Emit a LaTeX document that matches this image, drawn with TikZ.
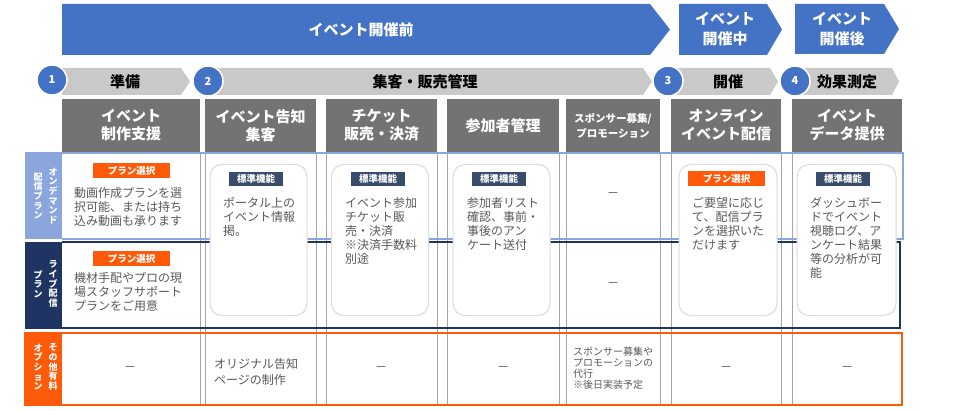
\documentclass[tikz,border=0pt]{standalone}
\usepackage{fontspec}
\setmainfont{Noto Sans CJK JP}
\definecolor{evblue}{HTML}{4472C4}
\definecolor{chev}{HTML}{C9C9C9}
\definecolor{hdr}{HTML}{737373}
\definecolor{ltblue}{HTML}{8AA6DD}
\definecolor{navy}{HTML}{1F3463}
\definecolor{orng}{HTML}{FF5A0A}
\definecolor{badge}{HTML}{394C6C}
\definecolor{txt}{HTML}{595959}
\definecolor{colline}{HTML}{A6A6A6}
\definecolor{rbox}{HTML}{DCDCDC}
\begin{document}
\begin{tikzpicture}[x=1pt,y=-1pt,
  bantext/.style={text=white,font=\fontsize{15}{20}\selectfont\bfseries,align=center,inner sep=0},
  chevtext/.style={text=black,font=\fontsize{15}{18}\selectfont\bfseries,inner sep=0},
  numcirc/.style={circle,fill=evblue,draw=white,line width=1.5pt,minimum size=30pt,inner sep=0,text=white,font=\fontsize{11}{11}\selectfont\bfseries},
  hdrbox/.style={fill=hdr,text=white,font=\fontsize{15}{18}\selectfont\bfseries,align=center,inner sep=0,minimum height=53pt},
  rboxst/.style={draw=rbox,fill=white,line width=1pt,rounded corners=12pt,minimum width=97pt,minimum height=151pt,inner sep=0},
  stdbadge/.style={fill=badge,text=white,font=\fontsize{9.5}{10}\selectfont\bfseries,minimum width=54pt,minimum height=14pt,inner sep=0},
  planbadge/.style={fill=orng,text=white,font=\fontsize{9.5}{10}\selectfont\bfseries,minimum width=77pt,minimum height=15pt,inner sep=0},
  body/.style={text=txt,font=\fontsize{12}{14}\selectfont,align=left,inner sep=0,anchor=north west},
  dashst/.style={text=txt,font=\fontsize{12}{14}\selectfont,inner sep=0},
  vlabel/.style={text=white,font=\fontsize{9}{9.6}\selectfont\bfseries,align=center,inner sep=0},
]
\useasboundingbox (0,0) rectangle (960,411);
\fill[white] (0,0) rectangle (960,411);

% top banners
\fill[evblue] (62,4) -- (650,4) -- (670,29.5) -- (650,55) -- (62,55) -- cycle;
\fill[evblue] (679,4) -- (767,4) -- (782,29.5) -- (767,55) -- (679,55) -- cycle;
\fill[evblue] (795,4) -- (884,4) -- (899,29) -- (884,54) -- (795,54) -- cycle;
\node[bantext] (b1) at (361,30) {イベント開催前};
\node[bantext] (b2) at (725,29) {イベント\\開催中};
\node[bantext] (b3) at (842,29) {イベント\\開催後};

% phase chevrons
\fill[chev] (62,68) -- (181,68) -- (190,81.5) -- (181,95) -- (62,95) -- cycle;
\fill[chev] (208,68) -- (643,68) -- (652,81.5) -- (643,95) -- (208,95) -- cycle;
\fill[chev] (668,68) -- (770,68) -- (778,81.5) -- (770,95) -- (668,95) -- cycle;
\fill[chev] (795,68) -- (892,68) -- (899,81.5) -- (892,95) -- (795,95) -- cycle;
\node[chevtext] (p1) at (125,81.5) {準備};
\node[chevtext] (p2) at (425,81.5) {集客・販売管理};
\node[chevtext] (p3) at (728,81.5) {開催};
\node[chevtext] (p4) at (847,81.5) {効果測定};
\node[numcirc] (n1) at (52,80) {1};
\node[numcirc] (n2) at (208,81) {2};
\node[numcirc] (n3) at (668,81) {3};
\node[numcirc] (n4) at (795,81) {4};

% column lines
\foreach \x in {200,205,316,326,437,447,559,566,660,671,781,792}
  \draw[colline,line width=0.9pt] (\x,152) -- (\x,405);

% bands
\draw[ltblue,line width=1.3pt] (25,153) -- (903,153) -- (903,239) -- (62,239);
\fill[ltblue] (25,153) rectangle (62,239.5);
\draw[navy,line width=2pt] (62,242) -- (900,242) -- (900,328) -- (25,328);
\fill[navy] (25,242) rectangle (62,328);
\fill[orng] (25,333) rectangle (62,405);
\draw[orng,line width=2.5pt] (25,333) rectangle (902,405);

% row labels (vertical)
\node[vlabel] (l1a) at (53,196) {オ\\ン\\デ\\マ\\ン\\ド};
\node[vlabel] (l1b) at (38,196) {配\\信\\プ\\ラ\\ン};
\node[vlabel] (l2a) at (53,284) {ラ\\イ\\ブ\\配\\信};
\node[vlabel] (l2b) at (38,284) {プ\\ラ\\ン};
\node[vlabel] (l3a) at (53,367) {そ\\の\\他\\有\\料};
\node[vlabel] (l3b) at (38,367) {オ\\プ\\シ\\ョ\\ン};

% column headers
\node[hdrbox,minimum width=138pt] (h1) at (131,125.5) {イベント\\制作支援};
\node[hdrbox,minimum width=111pt] (h2) at (260.5,125.5) {イベント告知\\集客};
\node[hdrbox,minimum width=111pt] (h3) at (381.5,125.5) {チケット\\販売・決済};
\node[hdrbox,minimum width=112pt] (h4) at (503,125.5) {参加者管理};
\node[hdrbox,minimum width=94pt,font=\fontsize{10.5}{15}\selectfont\bfseries] (h5) at (613,125.5) {スポンサー募集/\\プロモーション};
\node[hdrbox,minimum width=110pt] (h6) at (726,125.5) {オンライン\\イベント配信};
\node[hdrbox,minimum width=110pt] (h7) at (847,125.5) {イベント\\データ提供};

% rounded boxes
\node[rboxst] (r2) at (258.5,240) {};
\node[rboxst] (r3) at (380,240) {};
\node[rboxst] (r4) at (501.5,240) {};
\node[rboxst,minimum width=98pt] (r6) at (728,240) {};
\node[rboxst,minimum width=99pt] (r7) at (846.5,240) {};

% badges
\node[planbadge] (g1a) at (131.5,170.5) {プラン選択};
\node[planbadge] (g1b) at (131.5,259) {プラン選択};
\node[stdbadge] (g2) at (256,179) {標準機能};
\node[stdbadge] (g3) at (378,179) {標準機能};
\node[stdbadge] (g4) at (499,179) {標準機能};
\node[planbadge] (g6) at (726.5,178.5) {プラン選択};
\node[stdbadge] (g7) at (843,179) {標準機能};

% body texts
\node[body] (t1a) at (74,187) {動画作成プランを選\\択可能、または持ち\\込み動画も承ります};
\node[body] (t1b) at (74,272) {機材手配やプロの現\\場スタッフサポート\\プランをご用意};
\node[body] (t2) at (223,197) {ポータル上の\\イベント情報\\掲。};
\node[body] (t3) at (345,197) {イベント参加\\チケット販\\売・決済\\※決済手数料\\別途};
\node[body] (t4) at (467,197) {参加者リスト\\確認、事前・\\事後のアン\\ケート送付};
\node[body] (t6) at (692,197) {ご要望に応じ\\て、配信プラ\\ンを選択いた\\だけます};
\node[body] (t7) at (810,197) {ダッシュボー\\ドでイベント\\視聴ログ、ア\\ンケート結果\\等の分析が可\\能};
\node[body,font=\fontsize{12}{16}\selectfont] (o2) at (214,358) {オリジナル告知\\ページの制作};
\node[body,font=\fontsize{10}{11}\selectfont] (o5) at (573,347) {スポンサー募集や\\プロモーションの\\代行\\※後日実装予定};

% dashes
\node[dashst] (d5a) at (613,195) {－};
\node[dashst] (d5b) at (613,285) {－};
\node[dashst] (o1) at (130,369) {－};
\node[dashst] (o3) at (381,369) {－};
\node[dashst] (o4) at (503,369) {－};
\node[dashst] (o6) at (726,369) {－};
\node[dashst] (o7) at (847,369) {－};
\end{tikzpicture}
\end{document}
